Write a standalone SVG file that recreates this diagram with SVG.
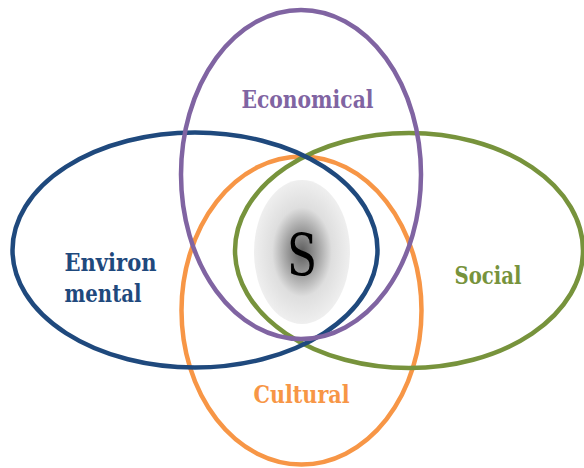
<svg xmlns="http://www.w3.org/2000/svg" width="584" height="468" viewBox="0 0 584 468">
  <defs>
    <radialGradient id="core" cx="50%" cy="50%" r="50%">
      <stop offset="0" stop-color="#5c5c5c"/>
      <stop offset="0.3" stop-color="#9a9a9a"/>
      <stop offset="0.62" stop-color="#dedede"/>
      <stop offset="1" stop-color="#efefef"/>
    </radialGradient>
  </defs>
  <style>
    .ring { fill: none; stroke-width: 4.5; }
    .lbl { font-family: 'DejaVu Serif', serif; font-weight: 700; font-size: 24px; }
  </style>
  <rect width="584" height="468" fill="#ffffff"/>

  <g id="core-node">
    <ellipse cx="302" cy="252" rx="48" ry="72" fill="url(#core)"/>
    <text x="287" y="275" textLength="30" lengthAdjust="spacingAndGlyphs" font-family="'DejaVu Serif', serif" font-size="58" fill="#000000">S</text>
  </g>

  <g id="cultural">
    <ellipse class="ring" cx="301.5" cy="310.5" rx="120" ry="154" stroke="#F79646"/>
    <text class="lbl" x="253.5" y="403" textLength="96" lengthAdjust="spacingAndGlyphs" fill="#F79646">Cultural</text>
  </g>

  <g id="social">
    <ellipse class="ring" cx="409" cy="250.5" rx="174" ry="117.5" stroke="#77933C"/>
    <text class="lbl" x="454.5" y="284" textLength="67" lengthAdjust="spacingAndGlyphs" fill="#77933C">Social</text>
  </g>

  <g id="environmental">
    <ellipse class="ring" cx="195" cy="250" rx="182.5" ry="117.5" stroke="#1F497D"/>
    <text class="lbl" x="64.5" y="271" textLength="92" lengthAdjust="spacingAndGlyphs" fill="#1F497D">Environ</text>
    <text class="lbl" x="64.5" y="302" textLength="77" lengthAdjust="spacingAndGlyphs" fill="#1F497D">mental</text>
  </g>

  <g id="economical">
    <ellipse class="ring" cx="301" cy="174.5" rx="120" ry="164.5" stroke="#8064A2"/>
    <text class="lbl" x="241.5" y="108" textLength="132" lengthAdjust="spacingAndGlyphs" fill="#8064A2">Economical</text>
  </g>
</svg>
